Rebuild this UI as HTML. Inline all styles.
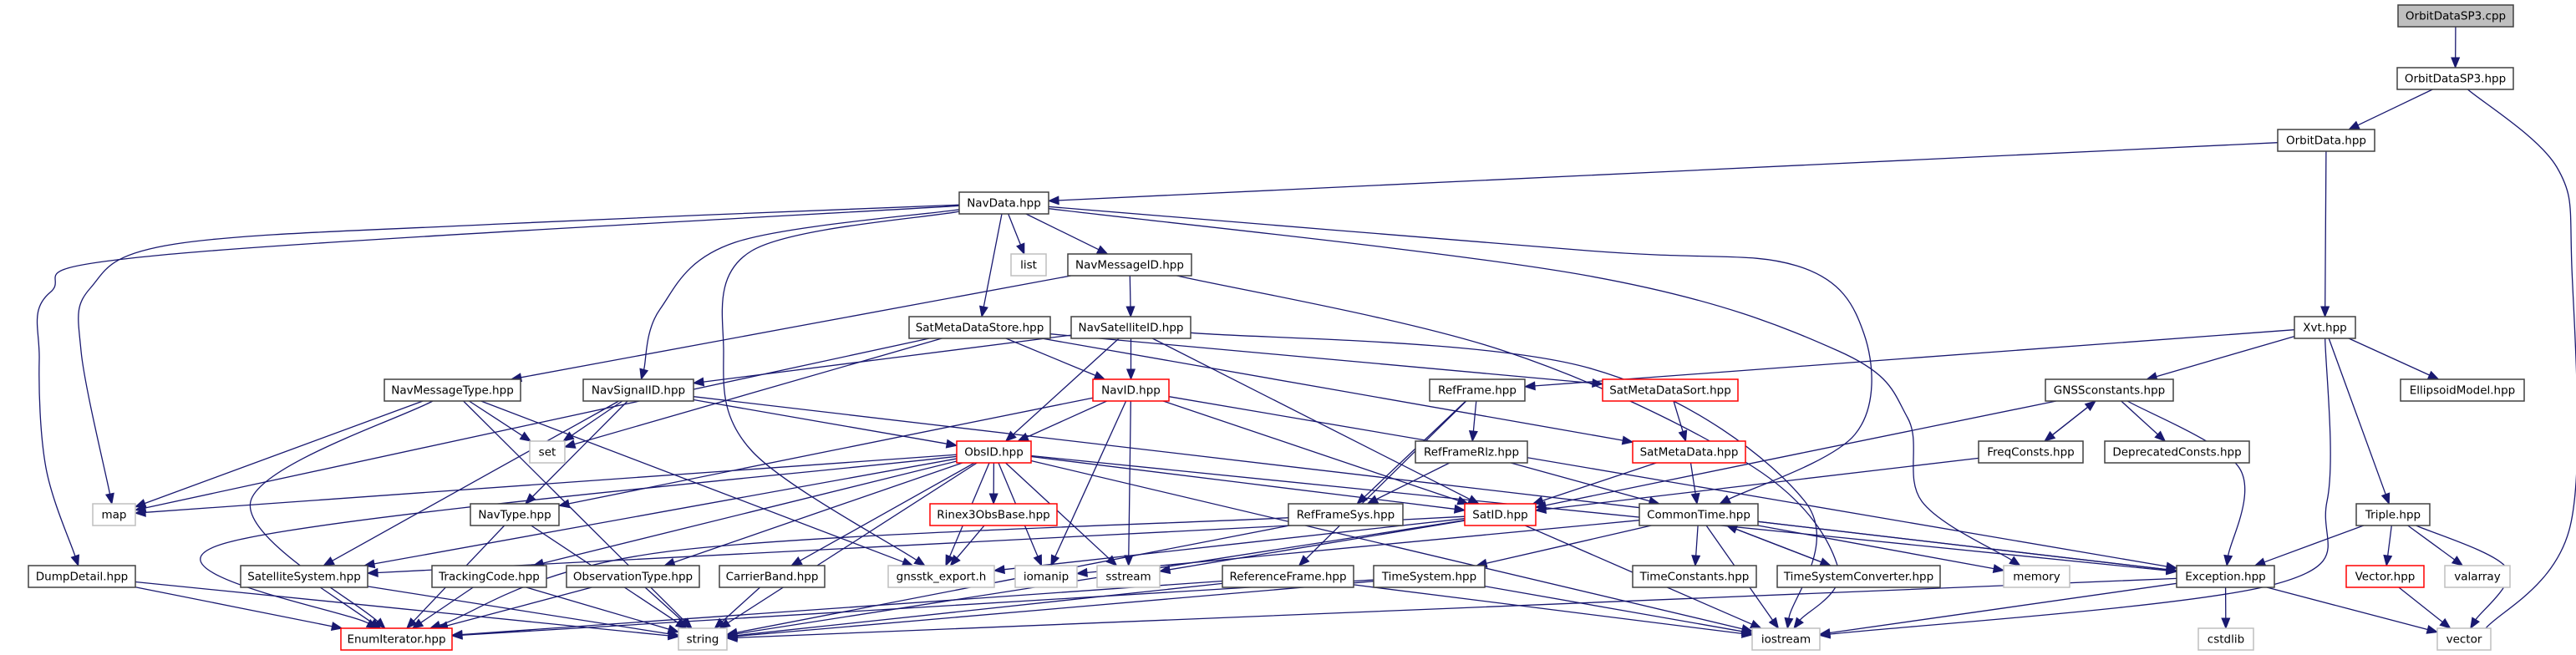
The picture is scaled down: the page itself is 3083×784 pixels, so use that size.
<!DOCTYPE html>
<html><head><meta charset="utf-8"><style>
html,body{margin:0;padding:0;background:#fff;}
svg{display:block}
text{font-family:"DejaVu Sans","Liberation Sans",sans-serif;font-size:13.5px;text-anchor:middle;fill:#000}
rect{fill:#fff;stroke:#404040;stroke-width:1.5}
.e rect{stroke:#bfbfbf}
.r rect{stroke:#ff0000}
.g rect{fill:#bfbfbf}
</style></head><body>
<svg id="s" width="3083" height="784" viewBox="0 0 3083 784" xmlns="http://www.w3.org/2000/svg">
<g id="edges"></g>
<g id="nodes">
<g id="cpp" class="g"><rect x="2870" y="6" width="138" height="26"/><text x="2939" y="23.5">OrbitDataSP3.cpp</text></g>
<g id="sp3"><rect x="2869" y="81" width="139" height="26"/><text x="2938.5" y="98.5">OrbitDataSP3.hpp</text></g>
<g id="od"><rect x="2726" y="155" width="116" height="26"/><text x="2784" y="172.5">OrbitData.hpp</text></g>
<g id="nd"><rect x="1148" y="230" width="107" height="26"/><text x="1201.5" y="247.5">NavData.hpp</text></g>
<g id="list" class="e"><rect x="1210" y="304" width="42" height="26"/><text x="1231" y="321.5">list</text></g>
<g id="nmid"><rect x="1278" y="304" width="148" height="26"/><text x="1352" y="321.5">NavMessageID.hpp</text></g>
<g id="smds"><rect x="1088" y="379" width="169" height="26"/><text x="1172.5" y="396.5">SatMetaDataStore.hpp</text></g>
<g id="nsat"><rect x="1282" y="379" width="143" height="26"/><text x="1353.5" y="396.5">NavSatelliteID.hpp</text></g>
<g id="xvt"><rect x="2746" y="379" width="73" height="26"/><text x="2782.5" y="396.5">Xvt.hpp</text></g>
<g id="nmt"><rect x="460" y="454" width="163" height="26"/><text x="541.5" y="471.5">NavMessageType.hpp</text></g>
<g id="nsig"><rect x="698" y="454" width="132" height="26"/><text x="764" y="471.5">NavSignalID.hpp</text></g>
<g id="navid" class="r"><rect x="1308" y="454" width="91" height="26"/><text x="1353.5" y="471.5">NavID.hpp</text></g>
<g id="rf"><rect x="1711" y="454" width="114" height="26"/><text x="1768" y="471.5">RefFrame.hpp</text></g>
<g id="smdsort" class="r"><rect x="1918" y="454" width="162" height="26"/><text x="1999" y="471.5">SatMetaDataSort.hpp</text></g>
<g id="gnss"><rect x="2448" y="454" width="153" height="26"/><text x="2524.5" y="471.5">GNSSconstants.hpp</text></g>
<g id="ellip"><rect x="2873" y="454" width="148" height="26"/><text x="2947" y="471.5">EllipsoidModel.hpp</text></g>
<g id="set" class="e"><rect x="634" y="528" width="42" height="26"/><text x="655" y="545.5">set</text></g>
<g id="obsid" class="r"><rect x="1145" y="528" width="89" height="26"/><text x="1189.5" y="545.5">ObsID.hpp</text></g>
<g id="rfrlz"><rect x="1694" y="528" width="134" height="26"/><text x="1761" y="545.5">RefFrameRlz.hpp</text></g>
<g id="smd" class="r"><rect x="1954" y="528" width="135" height="26"/><text x="2021.5" y="545.5">SatMetaData.hpp</text></g>
<g id="freq"><rect x="2368" y="528" width="125" height="26"/><text x="2430.5" y="545.5">FreqConsts.hpp</text></g>
<g id="depr"><rect x="2519" y="528" width="173" height="26"/><text x="2605.5" y="545.5">DeprecatedConsts.hpp</text></g>
<g id="map" class="e"><rect x="111" y="603" width="51" height="26"/><text x="136.5" y="620.5">map</text></g>
<g id="navtype"><rect x="563" y="603" width="106" height="26"/><text x="616" y="620.5">NavType.hpp</text></g>
<g id="rinex" class="r"><rect x="1113" y="603" width="152" height="26"/><text x="1189" y="620.5">Rinex3ObsBase.hpp</text></g>
<g id="rfsys"><rect x="1542" y="603" width="137" height="26"/><text x="1610.5" y="620.5">RefFrameSys.hpp</text></g>
<g id="satid" class="r"><rect x="1753" y="603" width="85" height="26"/><text x="1795.5" y="620.5">SatID.hpp</text></g>
<g id="ct"><rect x="1962" y="603" width="142" height="26"/><text x="2033" y="620.5">CommonTime.hpp</text></g>
<g id="triple"><rect x="2820" y="603" width="88" height="26"/><text x="2864" y="620.5">Triple.hpp</text></g>
<g id="dd"><rect x="34" y="677" width="128" height="26"/><text x="98" y="694.5">DumpDetail.hpp</text></g>
<g id="satsys"><rect x="288" y="677" width="152" height="26"/><text x="364" y="694.5">SatelliteSystem.hpp</text></g>
<g id="track"><rect x="517" y="677" width="137" height="26"/><text x="585.5" y="694.5">TrackingCode.hpp</text></g>
<g id="obstype"><rect x="678" y="677" width="159" height="26"/><text x="757.5" y="694.5">ObservationType.hpp</text></g>
<g id="carrier"><rect x="861" y="677" width="126" height="26"/><text x="924" y="694.5">CarrierBand.hpp</text></g>
<g id="gex" class="e"><rect x="1063" y="677" width="127" height="26"/><text x="1126.5" y="694.5">gnsstk_export.h</text></g>
<g id="iomanip" class="e"><rect x="1215" y="677" width="74" height="26"/><text x="1252" y="694.5">iomanip</text></g>
<g id="sstream" class="e"><rect x="1313" y="677" width="75" height="26"/><text x="1350.5" y="694.5">sstream</text></g>
<g id="reff"><rect x="1463" y="677" width="157" height="26"/><text x="1541.5" y="694.5">ReferenceFrame.hpp</text></g>
<g id="timesys"><rect x="1644" y="677" width="133" height="26"/><text x="1710.5" y="694.5">TimeSystem.hpp</text></g>
<g id="tconst"><rect x="1954" y="677" width="148" height="26"/><text x="2028" y="694.5">TimeConstants.hpp</text></g>
<g id="tsc"><rect x="2127" y="677" width="195" height="26"/><text x="2224.5" y="694.5">TimeSystemConverter.hpp</text></g>
<g id="memory" class="e"><rect x="2398" y="677" width="79" height="26"/><text x="2437.5" y="694.5">memory</text></g>
<g id="exc"><rect x="2605" y="677" width="117" height="26"/><text x="2663.5" y="694.5">Exception.hpp</text></g>
<g id="vech" class="r"><rect x="2808" y="677" width="93" height="26"/><text x="2854.5" y="694.5">Vector.hpp</text></g>
<g id="valarray" class="e"><rect x="2926" y="677" width="78" height="26"/><text x="2965" y="694.5">valarray</text></g>
<g id="enumit" class="r"><rect x="408" y="752" width="133" height="26"/><text x="474.5" y="769.5">EnumIterator.hpp</text></g>
<g id="string" class="e"><rect x="812" y="752" width="58" height="26"/><text x="841" y="769.5">string</text></g>
<g id="iostream" class="e"><rect x="2097" y="752" width="81" height="26"/><text x="2137.5" y="769.5">iostream</text></g>
<g id="cstdlib" class="e"><rect x="2631" y="752" width="66" height="26"/><text x="2664" y="769.5">cstdlib</text></g>
<g id="vector" class="e"><rect x="2917" y="752" width="64" height="26"/><text x="2949" y="769.5">vector</text></g>
</g>
</svg>
<script>
(function(){
var E=[
["cpp","sp3"],["sp3","od"],["sp3","vector",[[3060,200],[3078,320],[3076,630],[2975,752]]],["od","nd"],["od","xvt"],
["nd","dd",[[196,305],[60,350],[47,430],[55,560]]],["nd","map",[[600,268],[210,292],[108,345],[97,420]]],
["nd","nsig",[[880,290],[790,370]]],["nd","gex",[[900,300],[866,420],[900,540]]],["nd","smds"],["nd","list"],["nd","nmid"],
["nd","ct",[[1900,300],[2150,318],[2231,400],[2220,520]]],["nd","memory",[[1900,330],[2200,420],[2283,500],[2300,600]]],
["nmid","nmt"],["nmid","nsat"],["nmid","iostream",[[1800,420],[2100,560],[2200,680]]],
["nsat","nsig"],["nsat","navid"],["nsat","obsid"],["nsat","satid"],["nsat","iostream",[[1900,440],[2160,600]]],
["smds","map"],["smds","set"],["smds","navid"],["smds","smdsort"],["smds","smd"],
["xvt","rf"],["xvt","gnss"],["xvt","ellip"],["xvt","triple"],["xvt","iostream",[[2785,600],[2720,700]]],
["nmt","map"],["nmt","set"],["nmt","enumit",[[300,600]]],["nmt","string"],["nmt","gex"],
["nsig","set"],["nsig","navtype"],["nsig","satsys"],["nsig","obsid"],["nsig","exc"],
["navid","obsid"],["navid","satid"],["navid","navtype"],["navid","iomanip"],["navid","sstream"],["navid","exc"],
["obsid","map"],["obsid","satsys"],["obsid","track"],["obsid","obstype"],["obsid","carrier"],["obsid","string"],["obsid","gex"],["obsid","rinex"],["obsid","iomanip"],["obsid","sstream"],["obsid","satid"],["obsid","exc"],["obsid","iostream"],["obsid","enumit",[[270,650]]],
["rinex","gex"],["rf","rfrlz"],["rf","rfsys"],["rf","reff"],["rfrlz","rfsys"],["rfrlz","ct"],
["rfsys","string"],["rfsys","enumit",[[800,660]]],["smdsort","smd"],["smd","satid"],["smd","ct"],
["gnss","freq"],["gnss","depr"],["gnss","exc",[[2680,560]]],["gnss","satid"],["freq","gnss"],["freq","satid"],
["satid","satsys"],["satid","gex"],["satid","sstream"],["satid","iostream"],["satid","string"],
["ct","timesys"],["ct","tconst"],["ct","tsc"],["ct","exc"],["ct","memory"],["ct","iomanip"],["ct","iostream"],["tsc","ct"],
["navtype","enumit"],["navtype","string"],["dd","enumit"],["dd","string"],["satsys","enumit"],["satsys","string"],
["track","enumit"],["track","string"],["obstype","enumit"],["obstype","string"],["carrier","string"],
["reff","enumit"],["reff","string"],["reff","iostream"],["timesys","enumit"],["timesys","string"],["timesys","iostream"],
["exc","iostream"],["exc","string"],["exc","cstdlib"],["exc","vector"],
["triple","exc"],["triple","vech"],["triple","valarray"],["triple","vector",[[3000,680]]],["vech","vector"]
];
function box(id){var r=document.querySelector("#"+id+" rect");var x=+r.getAttribute("x"),y=+r.getAttribute("y"),w=+r.getAttribute("width"),h=+r.getAttribute("height");return{cx:x+w/2,cy:y+h/2,hw:w/2,hh:h/2};}
function clip(b,p){var dx=p[0]-b.cx,dy=p[1]-b.cy;var t=Math.min(dx?b.hw/Math.abs(dx):1e9,dy?b.hh/Math.abs(dy):1e9);if(t>1)t=1;return[b.cx+dx*t,b.cy+dy*t];}
var g=document.getElementById("edges"),out="";
E.forEach(function(e){
 var a=box(e[0]),b=box(e[1]),w=e[2]||[];
 var first=w.length?w[0]:[b.cx,b.cy],last=w.length?w[w.length-1]:[a.cx,a.cy];
 var s=clip(a,first),t=clip(b,last);
 var pts=[s].concat(w);
 var prev=pts[pts.length-1];var dx=t[0]-prev[0],dy=t[1]-prev[1],L=Math.sqrt(dx*dx+dy*dy)||1;var ux=dx/L,uy=dy/L;
 var base=[t[0]-12*ux,t[1]-12*uy];pts.push(base);
 var d="M"+pts[0][0].toFixed(1)+","+pts[0][1].toFixed(1);
 for(var i=0;i<pts.length-1;i++){var p0=pts[i-1]||pts[i],p1=pts[i],p2=pts[i+1],p3=pts[i+2]||p2;
  var c1=[p1[0]+(p2[0]-p0[0])/6,p1[1]+(p2[1]-p0[1])/6],c2=[p2[0]-(p3[0]-p1[0])/6,p2[1]-(p3[1]-p1[1])/6];
  d+=" C"+c1[0].toFixed(1)+","+c1[1].toFixed(1)+" "+c2[0].toFixed(1)+","+c2[1].toFixed(1)+" "+p2[0].toFixed(1)+","+p2[1].toFixed(1);}
 out+='<path d="'+d+'" fill="none" stroke="#191970" stroke-width="1.3"/>';
 var nx=-uy,ny=ux;
 out+='<polygon points="'+t[0]+","+t[1]+" "+(base[0]+4.8*nx)+","+(base[1]+4.8*ny)+" "+(base[0]-4.8*nx)+","+(base[1]-4.8*ny)+'" fill="#191970" stroke="#191970"/>';
});
g.innerHTML=out;
})();
</script>
</body></html>
